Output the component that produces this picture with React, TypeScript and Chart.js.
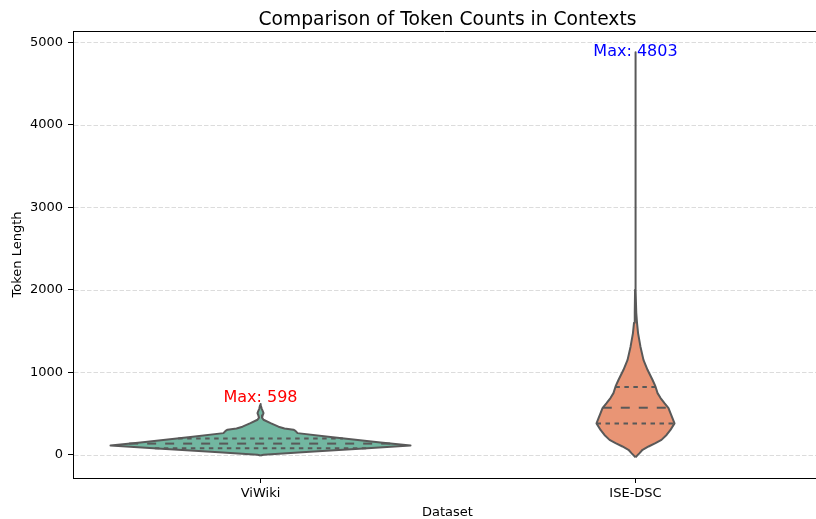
import React, { useEffect, useRef } from 'react';
import { Chart, registerables } from 'chart.js';

Chart.register(...registerables);

// ---------- data ----------
const categories = ['ViWiki', 'ISE-DSC'];
const maxValues = [598, 4803];
const labelColors = ['#ff0000', '#0000ff'];
const fillColors = ['#72b7a1', '#e99575'];
const yTickValues = [0, 1000, 2000, 3000, 4000, 5000];

// density profile (relative width)
const viwikiLevels = [-8, 0, 36, 76, 112, 149, 214, 262, 290, 303, 318, 340, 383, 424, 450, 480, 505, 530, 560, 600, 615];
const viwikiDensity = [0, 0.02, 0.33, 0.687, 1.0, 0.8, 0.467, 0.247, 0.233, 0.22, 0.16, 0.12, 0.067, 0.02, 0.01, 0.015, 0.02, 0.015, 0.008, 0.003, 0];
const viwikiQuartiles = [78, 135, 198];

const iseLevels = [-30, 20, 60, 100, 140, 180, 240, 300, 380, 440, 505, 566, 626, 687, 747, 828, 909, 1030, 1150, 1310, 1475, 1600, 1720, 2000, 3000, 4000, 4880];
const iseDensity = [0, 0.027, 0.047, 0.087, 0.133, 0.173, 0.207, 0.233, 0.26, 0.247, 0.233, 0.22, 0.193, 0.167, 0.147, 0.133, 0.113, 0.08, 0.053, 0.033, 0.017, 0.01, 0.005, 0.003, 0.002, 0.0015, 0];
const iseQuartiles = [380, 570, 820];

const HALF_WIDTH = 0.4;
const EDGE = '#595959';

function violinPolygon(center: number, levels: number[], dens: number[]) {
  const left = levels.map((y, i) => ({ x: center - dens[i] * HALF_WIDTH, y }));
  const right = levels.map((y, i) => ({ x: center + dens[i] * HALF_WIDTH, y })).reverse();
  return [...left, ...right, left[0]];
}

function densityAt(levels: number[], dens: number[], v: number) {
  for (let i = 0; i < levels.length - 1; i++) {
    if (v >= levels[i] && v <= levels[i + 1]) {
      const t = (v - levels[i]) / (levels[i + 1] - levels[i]);
      return dens[i] + t * (dens[i + 1] - dens[i]);
    }
  }
  return 0;
}

function quartileLine(center: number, levels: number[], dens: number[], v: number) {
  const w = densityAt(levels, dens, v) * HALF_WIDTH;
  return [{ x: center - w, y: v }, { x: center + w, y: v }];
}

const FONT = "'DejaVu Sans', sans-serif";

const decorPlugin = {
  id: 'decor',
  beforeDatasetsDraw(chart: any) {
    const { ctx, chartArea, scales } = chart;
    ctx.save();
    ctx.strokeStyle = '#dcdcdc';
    ctx.lineWidth = 1;
    ctx.setLineDash([4.5, 2]);
    for (const v of yTickValues) {
      const y = Math.round(scales.y.getPixelForValue(v)) + 0.5;
      ctx.beginPath();
      ctx.moveTo(chartArea.left + 1, y);
      ctx.lineTo(chartArea.right, y);
      ctx.stroke();
    }
    ctx.restore();
  },
  afterDraw(chart: any) {
    const { ctx, chartArea, scales } = chart;
    ctx.save();
    // top spine
    ctx.strokeStyle = '#000';
    ctx.lineWidth = 1;
    ctx.beginPath();
    ctx.moveTo(chartArea.left, chartArea.top + 0.5);
    ctx.lineTo(chartArea.right, chartArea.top + 0.5);
    ctx.stroke();

    const cx = 447.5;
    ctx.fillStyle = '#000';
    ctx.textAlign = 'center';
    ctx.textBaseline = 'alphabetic';
    ctx.font = `18.7px ${FONT}`;
    ctx.fillText('Comparison of Token Counts in Contexts', cx, 24.5);

    ctx.font = `13px ${FONT}`;
    ctx.fillText('Dataset', cx, 516);

    ctx.save();
    ctx.translate(21, (chartArea.top + chartArea.bottom) / 2);
    ctx.rotate(-Math.PI / 2);
    ctx.fillText('Token Length', 0, 0);
    ctx.restore();

    ctx.font = `16px ${FONT}`;
    categories.forEach((c, i) => {
      ctx.fillStyle = labelColors[i];
      const x = scales.x.getPixelForValue(i);
      const y = scales.y.getPixelForValue(maxValues[i]);
      ctx.fillText(`Max: ${maxValues[i]}`, x, y - 3);
    });
    ctx.restore();
  },
};

export default function App() {
  const canvasRef = useRef<HTMLCanvasElement | null>(null);

  useEffect(() => {
    if (!canvasRef.current) return;
    Chart.defaults.font.family = FONT;

    const violinBase = {
      showLine: true,
      pointRadius: 0,
      borderColor: EDGE,
      borderWidth: 2,
      borderJoinStyle: 'round' as const,
      tension: 0,
      fill: 'shape' as const,
      order: 2,
    };
    const qBase = {
      showLine: true,
      pointRadius: 0,
      borderColor: EDGE,
      borderWidth: 2,
      borderCapStyle: 'butt' as const,
      fill: false,
      order: 1,
    };
    const quartileSets: any[] = [];
    [viwikiQuartiles, iseQuartiles].forEach((qs, ci) => {
      const lv = ci === 0 ? viwikiLevels : iseLevels;
      const dn = ci === 0 ? viwikiDensity : iseDensity;
      qs.forEach((q, qi) => {
        quartileSets.push({
          ...qBase,
          label: `${categories[ci]} q${qi}`,
          data: quartileLine(ci, lv, dn, q),
          borderDash: qi === 1 ? [9, 9] : [4.5, 4.5],
        });
      });
    });

    const chart = new Chart(canvasRef.current, {
      type: 'scatter',
      data: {
        datasets: [
          { ...violinBase, label: categories[0], data: violinPolygon(0, viwikiLevels, viwikiDensity), backgroundColor: fillColors[0] },
          { ...violinBase, label: categories[1], data: violinPolygon(1, iseLevels, iseDensity), backgroundColor: fillColors[1] },
          ...quartileSets,
        ],
      },
      options: {
        animation: false,
        responsive: false,
        events: [],
        layout: { padding: { top: 31, left: 0, right: 0, bottom: 0 } },
        plugins: { legend: { display: false }, tooltip: { enabled: false }, title: { display: false } },
        scales: {
          x: {
            type: 'linear',
            min: -0.5,
            max: 1.4813,
            afterBuildTicks: (s: any) => { s.ticks = [{ value: 0 }, { value: 1 }]; },
            afterFit: (s: any) => { s.height = 41; },
            grid: { display: true, drawOnChartArea: false, drawTicks: true, tickLength: 5, tickColor: '#000', tickWidth: 1 },
            border: { display: true, color: '#000', width: 1 },
            ticks: {
              color: '#000',
              font: { size: 13 },
              padding: 3,
              maxRotation: 0,
              autoSkip: false,
              callback: (v: any) => categories[Number(v)] ?? '',
            },
          },
          y: {
            type: 'linear',
            min: -282,
            max: 5137,
            afterBuildTicks: (s: any) => { s.ticks = yTickValues.map((v) => ({ value: v })); },
            afterFit: (s: any) => { s.width = 73; },
            grid: { display: true, drawOnChartArea: false, drawTicks: true, tickLength: 5, tickColor: '#000', tickWidth: 1 },
            border: { display: true, color: '#000', width: 1 },
            ticks: { color: '#000', font: { size: 13 }, padding: 5, callback: (v: any) => String(v) },
          },
        },
      },
      plugins: [decorPlugin],
    } as any);
    return () => chart.destroy();
  }, []);

  return (
    <div style={{ position: 'absolute', left: 0, top: 0, width: 816, height: 519, background: '#fff' }}>
      <canvas ref={canvasRef} width={816} height={519} style={{ display: 'block' }} />
    </div>
  );
}
